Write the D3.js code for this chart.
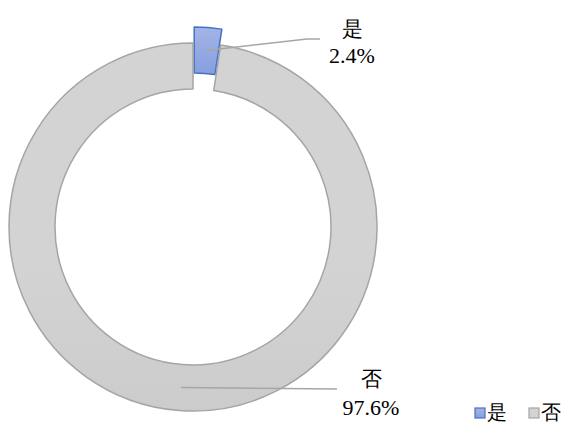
<!DOCTYPE html>
<html><head><meta charset="utf-8">
<script src="https://cdn.jsdelivr.net/npm/d3@7"></script>
<style>
html,body{margin:0;padding:0;background:#fff;}
svg{display:block;}
</style></head><body>
<svg id="c" width="571" height="424"></svg>
<script>
const categories = ["是", "否"];
const values = [2.4, 97.6];
const valueLabels = ["2.4%", "97.6%"];
const colors = ["#4472c4", "#a5a5a5"];

const FONT = "Liberation Serif";
const svg = d3.select("#c");
const cx = 193, cy = 227, R = 184, r = 138, explode = 16;

const defs = svg.append("defs");
const g1 = defs.append("linearGradient").attr("id","gBlue").attr("x1",0).attr("y1",0).attr("x2",0).attr("y2",1);
g1.append("stop").attr("offset","0%").attr("stop-color","#a3b4e6");
g1.append("stop").attr("offset","100%").attr("stop-color","#879fdf");
const g2 = defs.append("linearGradient").attr("id","gGray").attr("gradientUnits","userSpaceOnUse")
  .attr("x1",0).attr("y1",cy-R).attr("x2",0).attr("y2",cy+R);
g2.append("stop").attr("offset","0%").attr("stop-color","#d3d3d3");
g2.append("stop").attr("offset","100%").attr("stop-color","#c0c0c0");
const fills = ["url(#gBlue)", "url(#gGray)"];

const pie = d3.pie().sort(null).value(d => d)(values);
const arc = d3.arc().innerRadius(r).outerRadius(R);
const root = svg.append("g").attr("transform", `translate(${cx},${cy})`);

const offs = pie.map((p,i) => {
  const a = (p.startAngle + p.endAngle)/2;
  const e = i === 0 ? explode : 0;
  return [Math.sin(a)*e, -Math.cos(a)*e];
});

root.selectAll("path.slice").data(pie).enter().append("path")
  .attr("class","slice")
  .attr("transform",(d,i)=>`translate(${offs[i][0]},${offs[i][1]})`)
  .attr("d", arc)
  .attr("fill",(d,i)=>fills[i])
  .attr("stroke",(d,i)=>colors[i])
  .attr("stroke-width",1.5)
  .attr("stroke-linejoin","round");

const labelPos = [
  {pts:[[114,-188],[127,-188]], tx:159, ty1:-191, ty2:-164},
  {pts:[[144,162]], tx:178, ty1:159, ty2:188}
];
pie.forEach((p,i) => {
  const c = arc.centroid(p);
  const start = [c[0]+offs[i][0], c[1]+offs[i][1]];
  const pts = [start].concat(labelPos[i].pts);
  root.append("path")
    .attr("d", d3.line()(pts))
    .attr("fill","none").attr("stroke","#a6a6a6").attr("stroke-width",1.5);
  root.append("text").attr("x",labelPos[i].tx).attr("y",labelPos[i].ty1)
    .attr("text-anchor","middle").attr("font-family",FONT).attr("font-size",21).attr("fill","#000").text(categories[i]);
  root.append("text").attr("x",labelPos[i].tx).attr("y",labelPos[i].ty2)
    .attr("text-anchor","middle").attr("font-family",FONT).attr("font-size",22).attr("fill","#000").text(valueLabels[i]);
});

const leg = svg.append("g").attr("transform","translate(475,408)");
const legX = [0, 54];
categories.forEach((c,i) => {
  leg.append("rect").attr("x",legX[i]).attr("y",0).attr("width",10).attr("height",10)
    .attr("fill",fills[i]).attr("stroke",colors[i]).attr("stroke-width",1.2);
  leg.append("text").attr("x",legX[i]+12).attr("y",11).attr("font-family",FONT).attr("font-size",20).attr("fill","#000").text(c);
});
</script>
</body></html>
